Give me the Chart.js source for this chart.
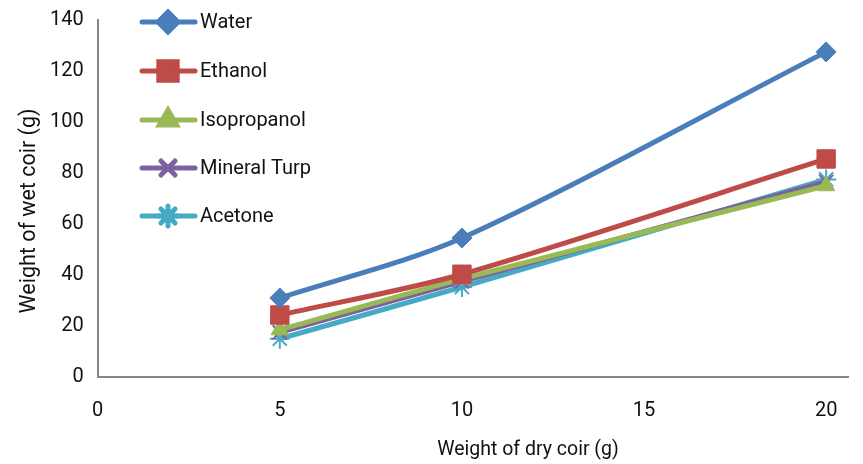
<!DOCTYPE html>
<html>
<head>
<meta charset="utf-8">
<script src="https://cdn.jsdelivr.net/npm/chart.js@4"></script>
<style>
  body { margin: 0; background: #fff; }
  #wrap { width: 863px; height: 464px; }
</style>
</head>
<body>
<div id="wrap"><canvas id="coirChart" width="863" height="464"></canvas></div>
<script>
var dryCoir = [5, 10, 20];
var water = [31, 54.5, 127.5];
var ethanol = [24.3, 40.3, 85.5];
var isopropanol = [18.5, 38.5, 75];
var mineralTurp = [17.5, 37.5, 76.5];
var acetone = [15, 35.3, 77.5];
var xTicks = [0, 5, 10, 15, 20];
var xTitle = 'Weight of dry coir (g)';
var yTitle = 'Weight of wet coir (g)';

var FONT = "'Roboto', sans-serif";

function pts(vals) {
  return dryCoir.map(function (x, i) { return { x: x, y: vals[i] }; });
}

function series(label, vals, color, style, r, bw) {
  return {
    label: label,
    data: pts(vals),
    borderColor: color,
    backgroundColor: color,
    borderWidth: 5,
    tension: 0.3,
    pointStyle: style,
    pointRadius: r,
    pointBorderWidth: bw,
    pointBackgroundColor: color,
    pointBorderColor: color
  };
}

// legend inside the plot + axis titles (placed like the original, not centred)
var extras = {
  id: 'extras',
  afterDraw: function (c) {
    var ctx = c.ctx;
    var rowY = [22, 71, 120, 168, 216];
    ctx.save();
    c.data.datasets.forEach(function (ds, i) {
      var y = rowY[i];
      ctx.strokeStyle = ds.borderColor;
      ctx.lineWidth = 5;
      ctx.lineCap = 'round';
      ctx.beginPath();
      ctx.moveTo(142, y);
      ctx.lineTo(195, y);
      ctx.stroke();
      ctx.fillStyle = ds.backgroundColor;
      ctx.strokeStyle = ds.borderColor;
      Chart.helpers.drawPoint(ctx, {
        pointStyle: ds.pointStyle,
        radius: ds.pointRadius,
        borderWidth: ds.pointBorderWidth,
        rotation: 0
      }, 168, y);
      ctx.fillStyle = '#111';
      ctx.font = '20px ' + FONT;
      ctx.textAlign = 'left';
      ctx.textBaseline = 'middle';
      ctx.fillText(ds.label, 200, y + 1);
    });

    ctx.fillStyle = '#111';
    ctx.textAlign = 'center';
    ctx.textBaseline = 'middle';
    ctx.font = '19.5px ' + FONT;
    ctx.fillText(xTitle, 528, 450);
    ctx.translate(30, 211);
    ctx.rotate(-Math.PI / 2);
    ctx.font = '21.5px ' + FONT;
    ctx.fillText(yTitle, 0, 0);
    ctx.restore();
  }
};

new Chart(document.getElementById('coirChart'), {
  type: 'line',
  data: {
    datasets: [
      series('Water', water, '#4a7ebb', 'rectRot', 10, 1),
      series('Ethanol', ethanol, '#be4b48', 'rect', 13, 1),
      series('Isopropanol', isopropanol, '#98b954', 'triangle', 10, 1),
      series('Mineral Turp', mineralTurp, '#7d60a0', 'crossRot', 10, 2),
      series('Acetone', acetone, '#46aac5', 'star', 10, 2)
    ]
  },
  options: {
    responsive: false,
    animation: false,
    layout: { padding: { top: 18, right: 15, left: 42, bottom: 26 } },
    plugins: {
      legend: { display: false },
      tooltip: { enabled: false }
    },
    scales: {
      x: {
        type: 'linear',
        min: 0,
        max: 20.6,
        afterBuildTicks: function (ax) {
          ax.ticks = xTicks.map(function (v) { return { value: v }; });
        },
        grid: { display: false, drawTicks: true, tickLength: 7, tickColor: '#868686' },
        border: { color: '#868686', width: 2 },
        ticks: { color: '#111', font: { family: FONT, size: 20 }, padding: 15, maxRotation: 0 }
      },
      y: {
        min: 0,
        max: 140,
        ticks: { stepSize: 20, color: '#111', font: { family: FONT, size: 20 }, padding: 8 },
        grid: { display: false, drawTicks: true, tickLength: 6, tickColor: '#868686' },
        border: { color: '#868686', width: 2 }
      }
    }
  },
  plugins: [extras]
});
</script>
</body>
</html>
